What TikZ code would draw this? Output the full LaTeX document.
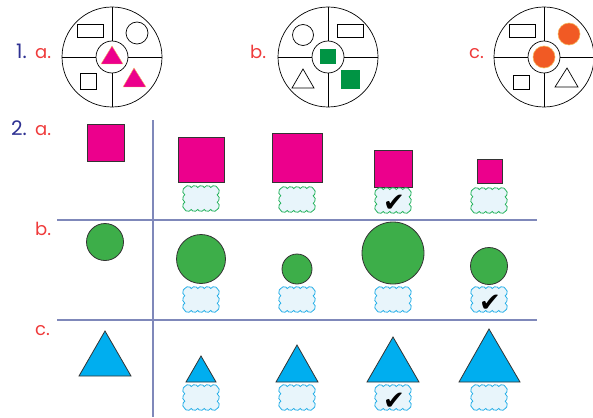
\documentclass[tikz,border=0pt]{standalone}
\usepackage{fontspec}
\setmainfont{Poppins}
\newfontfamily\symfont{DejaVu Sans}
\definecolor{numblue}{HTML}{2E3192}
\definecolor{letred}{HTML}{EF3B3B}
\definecolor{pinkc}{HTML}{EC008C}
\definecolor{dgreen}{HTML}{009444}
\definecolor{orangec}{HTML}{F15A24}
\definecolor{orangeedge}{HTML}{F5B860}
\definecolor{lgreen}{HTML}{3DAE49}
\definecolor{cyanc}{HTML}{00AEEF}
\definecolor{cloudgreen}{HTML}{27B35F}
\definecolor{cloudcyan}{HTML}{29B0E8}
\definecolor{cloudfill}{HTML}{E8F5FB}
\definecolor{gridc}{HTML}{7F88BA}
\definecolor{edgec}{HTML}{333333}
\tikzset{
  numlbl/.style={text=numblue,font=\fontsize{20}{20}\selectfont,anchor=base west,inner sep=0pt},
  letlbl/.style={text=letred,font=\fontsize{18}{18}\selectfont,anchor=base west,inner sep=0pt},
  outl/.style={draw=black,line width=0.7pt},
  shp/.style={draw=edgec,line width=0.8pt},
  gridline/.style={draw=gridc,line width=1.3pt},
  chk/.style={font=\symfont\fontsize{26}{26}\selectfont,text=black,inner sep=0pt},
  cgreen/.style={draw=cloudgreen,fill=cloudfill,line width=0.8pt},
  ccyan/.style={draw=cloudcyan,fill=cloudfill,line width=0.8pt},
  pics/wheel/.style={code={
    \draw[outl] (0,0) circle[radius=50pt];
    \draw[outl] (0,0) circle[radius=16pt];
    \draw[outl] (0,16)--(0,50) (0,-16)--(0,-50) (16,0)--(50,0) (-16,0)--(-50,0);
  }},
  pics/cloudbox/.style={code={
    \path[pic actions] (-16.2,11)
      \foreach \i in {1,...,5}{arc[start angle=150,end angle=30,radius=3.741pt]}
      \foreach \i in {1,2,3}{arc[start angle=60,end angle=-60,radius=4.234pt]}
      \foreach \i in {1,...,5}{arc[start angle=-30,end angle=-150,radius=3.741pt]}
      \foreach \i in {1,2,3}{arc[start angle=240,end angle=120,radius=4.234pt]}
      -- cycle;
  }}
}
\begin{document}
\begin{tikzpicture}[x=1pt,y=1pt]
\useasboundingbox (0,0) rectangle (593,-417);

% ---------- Part 1 ----------
\node[numlbl] (n1) at (16,-59) {1.};
\node[letlbl] (l1a) at (35,-59) {a.};
\node[letlbl] (l1b) at (250,-59) {b.};
\node[letlbl] (l1c) at (469,-59) {c.};

% wheel a
\begin{scope}[shift={(112,-57)}]
  \pic (wa) {wheel};
  \draw[outl] (-35,33) rectangle (-9,20);
  \draw[outl] (25,24) circle[radius=11pt];
  \draw[outl] (-32,-16) rectangle (-16,-32);
  \draw[fill=pinkc,draw=orangeedge,line width=0.4pt] (22,-11) -- (34,-30) -- (11,-30) -- cycle;
  \draw[fill=pinkc,draw=orangeedge,line width=0.4pt] (0,11) -- (11,-7) -- (-11,-7) -- cycle;
\end{scope}

% wheel b
\begin{scope}[shift={(328,-57)}]
  \pic (wb) {wheel};
  \fill[dgreen] (-8,8) rectangle (8,-7);
  \fill[dgreen] (13,-13) rectangle (32,-32);
  \draw[outl] (9,33) rectangle (35,20);
  \draw[outl] (-25,22) circle[radius=10.5pt];
  \draw[outl] (-25,-12) -- (-14,-31) -- (-36,-31) -- cycle;
\end{scope}

% wheel c
\begin{scope}[shift={(544,-57)}]
  \pic (wc) {wheel};
  \draw[outl] (-35,33) rectangle (-9,20);
  \draw[fill=orangec,draw=orangeedge,line width=0.6pt] (25,23) circle[radius=11pt];
  \draw[fill=orangec,draw=orangeedge,line width=0.6pt] (0,0) circle[radius=11pt];
  \draw[outl] (-31,-18) rectangle (-15,-32);
  \draw[outl] (23,-11) -- (34,-30) -- (11,-30) -- cycle;
\end{scope}

% ---------- Part 2 ----------
\node[numlbl] (n2) at (11,-135) {2.};
\node[letlbl] (l2a) at (35,-135) {a.};
\node[letlbl] (l2b) at (35,-235) {b.};
\node[letlbl] (l2c) at (35,-335) {c.};

\coordinate (vt) at (153,-120);
\coordinate (vb) at (153,-417);
\coordinate (h1l) at (57,-220);
\coordinate (h1r) at (537,-220);
\coordinate (h2l) at (57,-320);
\coordinate (h2r) at (537,-320);
\draw[gridline] (vt) -- (vb);
\draw[gridline] (h1l) -- (h1r);
\draw[gridline] (h2l) -- (h2r);

% row a squares
\draw[shp,fill=pinkc] (87,-124) rectangle (124,-161);
\draw[shp,fill=pinkc] (178,-137) rectangle (224,-182);
\draw[shp,fill=pinkc] (272,-133) rectangle (322,-182);
\draw[shp,fill=pinkc] (374,-150) rectangle (412,-187);
\draw[shp,fill=pinkc] (477,-159) rectangle (502,-183);
\pic[cgreen] (ca1) at (201,-198.5) {cloudbox};
\pic[cgreen] (ca2) at (297,-199.5) {cloudbox};
\pic[cgreen] (ca3) at (393,-200.5) {cloudbox};
\pic[cgreen] (ca4) at (489,-200.5) {cloudbox};
\node[chk] (ka3) at (394,-203) {✔};

% row b circles
\draw[shp,fill=lgreen] (105,-242) circle[radius=18.5pt];
\draw[shp,fill=lgreen] (201,-259) circle[radius=24.5pt];
\draw[shp,fill=lgreen] (297,-269) circle[radius=15pt];
\draw[shp,fill=lgreen] (393,-253) circle[radius=31pt];
\draw[shp,fill=lgreen] (489,-266) circle[radius=18.5pt];
\pic[ccyan] (cb1) at (201,-299.5) {cloudbox};
\pic[ccyan] (cb2) at (297,-299.5) {cloudbox};
\pic[ccyan] (cb3) at (393,-299.5) {cloudbox};
\pic[ccyan] (cb4) at (489,-299.5) {cloudbox};
\node[chk] (kb4) at (490,-303) {✔};

% row c triangles
\draw[shp,fill=cyanc] (105,-331) -- (131,-376) -- (79,-376) -- cycle;
\draw[shp,fill=cyanc] (201,-356) -- (216,-382) -- (186,-382) -- cycle;
\draw[shp,fill=cyanc] (297,-345) -- (318,-382) -- (276,-382) -- cycle;
\draw[shp,fill=cyanc] (393,-337) -- (419,-382) -- (367,-382) -- cycle;
\draw[shp,fill=cyanc] (489,-329) -- (520,-382) -- (459,-382) -- cycle;
\pic[ccyan] (cc1) at (201,-397.5) {cloudbox};
\pic[ccyan] (cc2) at (297,-397.5) {cloudbox};
\pic[ccyan] (cc3) at (393,-397.5) {cloudbox};
\pic[ccyan] (cc4) at (489,-397.5) {cloudbox};
\node[chk] (kc3) at (394,-401) {✔};
\end{tikzpicture}
\end{document}
